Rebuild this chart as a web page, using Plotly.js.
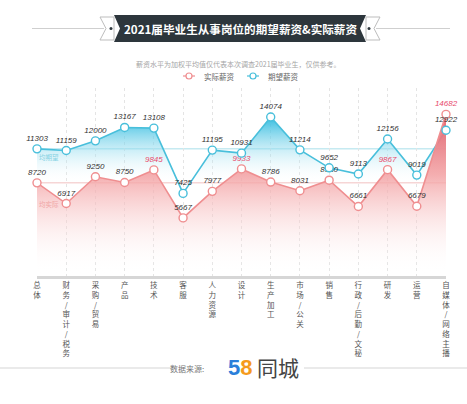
<!DOCTYPE html>
<html>
<head>
<meta charset="utf-8">
<script src="https://cdn.plot.ly/plotly-3.0.1.min.js"></script>
<style>html,body{margin:0;padding:0;background:#fff;}#chart{width:467px;height:404px;}</style>
</head>
<body>
<div id="chart"></div>
<script>
const categories = ['总体','财务/审计/税务','采购/贸易','产品','技术','客服','人力资源','设计','生产加工','市场/公关','销售','行政/后勤/文秘','研发','运营','自媒体/网络主播'];
const expectedSalary = [11303,11159,12000,13167,13108,7425,11195,10931,14074,11214,9652,9113,12156,9019,12922];
const actualSalary = [8720,6917,9250,8750,9845,5667,7977,9933,8786,8031,8950,6661,9867,6679,14682];
const highlighted = ['技术','设计','研发','自媒体/网络主播'];
const seriesNames = ['实际薪资','期望薪资'];
const avgLabels = ['均期望','均实际'];
const titleText = '2021届毕业生从事岗位的期望薪资&实际薪资';
const subtitleText = '薪资水平为加权平均值仅代表本次调查2021届毕业生，仅供参考。';
const sourceLabel = '数据来源:';

const W = 467, H = 404;
const M = {l: 37, r: 21, t: 88, b: 128};
const PW = W - M.l - M.r, PH = H - M.t - M.b;
const px = x => (x - M.l) / PW;
const py = y => (H - M.b - y) / PH;

const RED = '#ef8e90', BLUE = '#48bfdb';
const CJK = 'Noto Sans CJK SC, sans-serif';
const LAB = 'Liberation Sans, Arial, sans-serif';

const vertical = s => Array.from(s).join('<br>');

const actualRange = [610, 16975];
const expectedRange = [235, 16600];

const traces = [
  {
    x: categories, y: expectedSalary, type: 'scatter', mode: 'lines', yaxis: 'y',
    line: {color: BLUE, width: 1.6}, fill: 'tozeroy',
    fillgradient: {type: 'vertical', start: 8300, stop: 14074,
      colorscale: [[0, 'rgba(255,255,255,0)'], [1, 'rgba(40,185,222,0.95)']]},
    hoverinfo: 'skip', showlegend: false, cliponaxis: false
  },
  {
    x: categories, y: actualSalary, type: 'scatter', mode: 'lines+markers+text', yaxis: 'y2',
    line: {color: RED, width: 1.6}, fill: 'tozeroy',
    fillgradient: {type: 'vertical', start: 800, stop: 14682,
      colorscale: [[0, 'rgba(255,255,255,0)'], [0.62, 'rgba(243,160,162,0.85)'], [1, 'rgba(236,95,105,0.95)']]},
    marker: {size: 8, color: '#fff', line: {color: RED, width: 1.4}},
    text: actualSalary.map(String), textposition: 'top center',
    textfont: {family: LAB, size: 8, style: 'italic',
      color: categories.map(c => highlighted.includes(c) ? '#e84a6c' : '#333')},
    hoverinfo: 'skip', showlegend: false, cliponaxis: false
  },
  {
    x: categories, y: expectedSalary, type: 'scatter', mode: 'markers+text', yaxis: 'y3',
    marker: {size: 8, color: '#fff', line: {color: BLUE, width: 1.4}},
    text: expectedSalary.map(String), textposition: 'top center',
    textfont: {family: LAB, size: 8, style: 'italic', color: '#333'},
    hoverinfo: 'skip', showlegend: false, cliponaxis: false
  }
];

const shapes = [
  // average lines
  {type: 'line', xref: 'paper', yref: 'y', x0: 0, x1: 1, y0: expectedSalary[0], y1: expectedSalary[0], line: {color: '#a9dfea', width: 1}, layer: 'below'},
  {type: 'line', xref: 'paper', yref: 'y2', x0: 0, x1: 1, y0: actualSalary[0], y1: actualSalary[0], line: {color: '#f2c0c0', width: 1}, layer: 'below'},
  // banner side lines
  {type: 'line', xref: 'paper', yref: 'paper', x0: px(32), x1: px(104), y0: py(28.5), y1: py(28.5), line: {color: '#cfcfcf', width: 1}},
  {type: 'line', xref: 'paper', yref: 'paper', x0: px(376), x1: px(450), y0: py(28.5), y1: py(28.5), line: {color: '#cfcfcf', width: 1}},
  // ribbon tails
  {type: 'path', xref: 'paper', yref: 'paper',
   path: `M${px(100)},${py(17)} L${px(114)},${py(17)} L${px(114)},${py(40)} L${px(100)},${py(40)} L${px(106)},${py(28.5)} Z`,
   fillcolor: '#fff', line: {color: '#bdbdbd', width: 1}},
  {type: 'path', xref: 'paper', yref: 'paper',
   path: `M${px(380)},${py(17)} L${px(366)},${py(17)} L${px(366)},${py(40)} L${px(380)},${py(40)} L${px(374)},${py(28.5)} Z`,
   fillcolor: '#fff', line: {color: '#bdbdbd', width: 1}},
  // banner body
  {type: 'path', xref: 'paper', yref: 'paper',
   path: `M${px(114)},${py(15)} L${px(366)},${py(15)} L${px(360)},${py(28.5)} L${px(366)},${py(42)} L${px(114)},${py(42)} L${px(120)},${py(28.5)} Z`,
   fillcolor: '#2d363c', line: {width: 0}},
  {type: 'circle', xref: 'paper', yref: 'paper', x0: px(109.5), x1: px(112.5), y0: py(27), y1: py(30), fillcolor: '#2d363c', line: {width: 0}},
  {type: 'circle', xref: 'paper', yref: 'paper', x0: px(367.5), x1: px(370.5), y0: py(27), y1: py(30), fillcolor: '#2d363c', line: {width: 0}},
  // legend icons
  {type: 'line', xref: 'paper', yref: 'paper', x0: px(183), x1: px(195), y0: py(76), y1: py(76), line: {color: RED, width: 1.2}},
  {type: 'circle', xref: 'paper', yref: 'paper', x0: px(186), x1: px(192), y0: py(73), y1: py(79), fillcolor: '#fff', line: {color: RED, width: 1.2}},
  {type: 'line', xref: 'paper', yref: 'paper', x0: px(247), x1: px(259), y0: py(76), y1: py(76), line: {color: BLUE, width: 1.2}},
  {type: 'circle', xref: 'paper', yref: 'paper', x0: px(250), x1: px(256), y0: py(73), y1: py(79), fillcolor: '#fff', line: {color: BLUE, width: 1.2}},
  // footer lines
  {type: 'line', xref: 'paper', yref: 'paper', x0: px(0), x1: px(176), y0: py(368), y1: py(368), line: {color: '#d5d5d5', width: 1}},
  {type: 'line', xref: 'paper', yref: 'paper', x0: px(304), x1: px(467), y0: py(368), y1: py(368), line: {color: '#d5d5d5', width: 1}}
];

const annotations = [
  {text: '<b>' + titleText + '</b>', xref: 'paper', yref: 'paper', x: px(240), y: py(28.5), showarrow: false,
   font: {family: CJK, size: 11.6, color: '#fff'}, xanchor: 'center', yanchor: 'middle'},
  {text: subtitleText, xref: 'paper', yref: 'paper', x: px(238), y: py(64), showarrow: false,
   font: {family: CJK, size: 7, color: '#a5a5a5'}, xanchor: 'center', yanchor: 'middle'},
  {text: seriesNames[0], xref: 'paper', yref: 'paper', x: px(202), y: py(76), showarrow: false,
   font: {family: CJK, size: 7.5, color: '#666'}, xanchor: 'left', yanchor: 'middle'},
  {text: seriesNames[1], xref: 'paper', yref: 'paper', x: px(266), y: py(76), showarrow: false,
   font: {family: CJK, size: 7.5, color: '#666'}, xanchor: 'left', yanchor: 'middle'},
  {text: avgLabels[0], xref: 'paper', yref: 'y', x: 0, y: expectedSalary[0], yshift: -8, showarrow: false,
   font: {family: CJK, size: 6.5, color: '#86d2e3'}, xanchor: 'left', yanchor: 'middle'},
  {text: avgLabels[1], xref: 'paper', yref: 'y2', x: 0, y: actualSalary[0], yshift: -21, showarrow: false,
   font: {family: CJK, size: 6.5, color: '#f0a5a5'}, xanchor: 'left', yanchor: 'middle'},
  {text: sourceLabel, xref: 'paper', yref: 'paper', x: px(206), y: py(368), showarrow: false,
   font: {family: CJK, size: 8, color: '#777'}, xanchor: 'right', yanchor: 'middle'},
  {text: '<b><span style="color:#2a7fda">5</span><span style="color:#f59a1c">8</span></b>', xref: 'paper', yref: 'paper', x: px(226), y: py(367), showarrow: false,
   font: {family: LAB, size: 22}, xanchor: 'left', yanchor: 'middle'},
  {text: '同城', xref: 'paper', yref: 'paper', x: px(255), y: py(367), showarrow: false,
   font: {family: CJK, size: 21, color: '#444'}, xanchor: 'left', yanchor: 'middle'}
];

const hiddenY = r => ({range: r, showgrid: false, zeroline: false, showticklabels: false,
  showline: false, ticks: '', fixedrange: true});

const layout = {
  width: W, height: H,
  margin: M,
  paper_bgcolor: '#fff', plot_bgcolor: 'rgba(0,0,0,0)',
  xaxis: {
    type: 'category', range: [0, categories.length - 1],
    tickvals: categories, ticktext: categories.map(vertical),
    tickfont: {family: CJK, size: 7.5, color: '#555'},
    showgrid: true, gridcolor: '#e4e4e4', griddash: 'dot', gridwidth: 1,
    showline: true, linecolor: '#d6d6d6', linewidth: 3,
    ticks: '', zeroline: false, fixedrange: true
  },
  yaxis: hiddenY(expectedRange),
  yaxis2: Object.assign(hiddenY(actualRange), {overlaying: 'y'}),
  yaxis3: Object.assign(hiddenY(expectedRange), {overlaying: 'y'}),
  shapes: shapes,
  annotations: annotations,
  showlegend: false
};

Plotly.newPlot('chart', traces, layout, {displayModeBar: false, staticPlot: true});
</script>
</body>
</html>
